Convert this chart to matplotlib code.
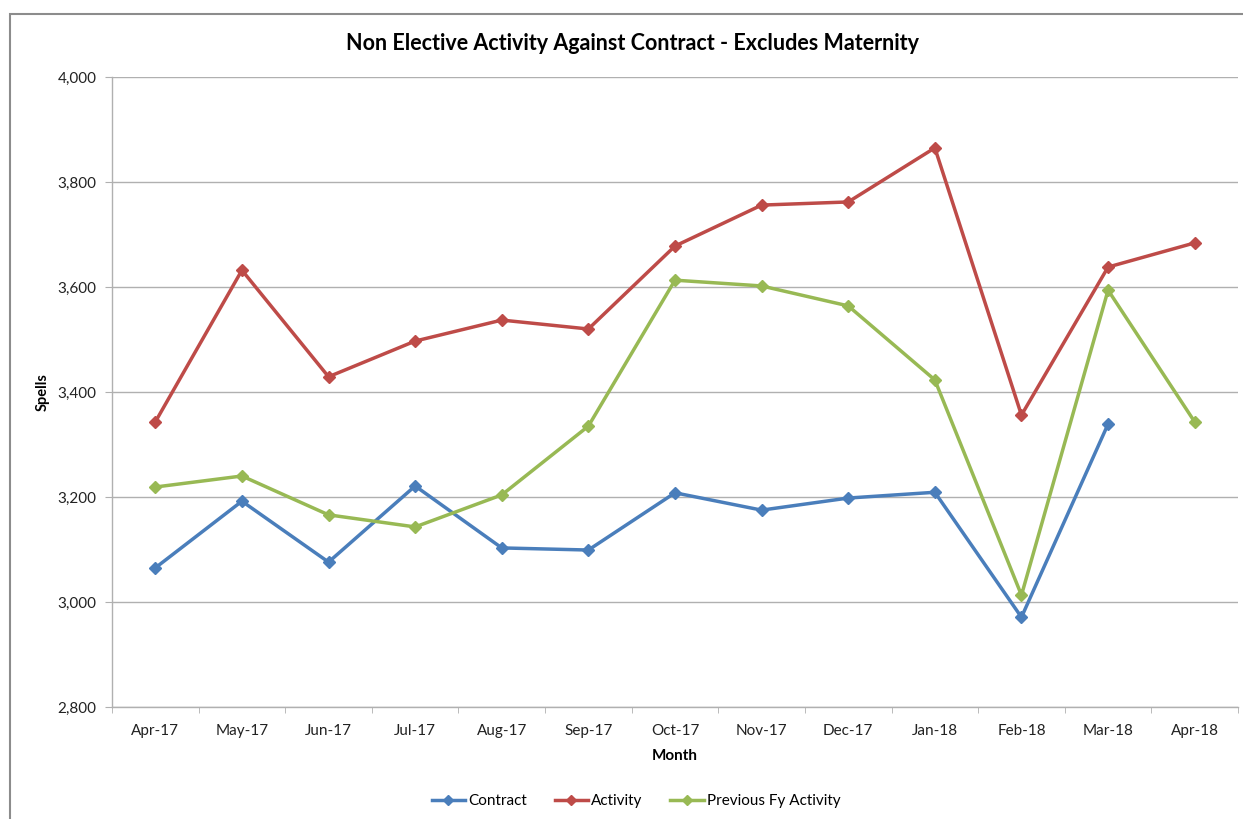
import matplotlib
matplotlib.use("Agg")
import matplotlib.pyplot as plt
from matplotlib.patches import Rectangle
from matplotlib.ticker import FuncFormatter, FixedLocator

plt.rcParams['font.family'] = ['Lato', 'DejaVu Sans']

months = ['Apr-17', 'May-17', 'Jun-17', 'Jul-17', 'Aug-17', 'Sep-17', 'Oct-17',
          'Nov-17', 'Dec-17', 'Jan-18', 'Feb-18', 'Mar-18', 'Apr-18']
contract = [3065, 3192, 3076, 3221, 3103, 3099, 3208, 3175, 3198, 3209, 2971, 3339, None]
activity = [3343, 3632, 3429, 3497, 3537, 3520, 3678, 3756, 3762, 3865, 3356, 3638, 3684]
previous_fy = [3219, 3240, 3166, 3143, 3204, 3335, 3613, 3602, 3564, 3423, 3013, 3594, 3343]

fig = plt.figure(figsize=(12.43, 8.19), dpi=100)
fig.patches.append(Rectangle((10/1243, -0.1), 1.2, 1 - 14/819 + 0.1, transform=fig.transFigure,
                             fill=False, edgecolor='#8c8c8c', linewidth=1.5))

ax = fig.add_axes([112/1243, 1 - 707/819, (1238 - 112)/1243, (707 - 77)/819])

x = list(range(len(months)))
c_x = [i for i, v in enumerate(contract) if v is not None]
c_y = [v for v in contract if v is not None]

ax.plot(c_x, c_y, color='#4A7EBB', lw=2.5, marker='D', ms=6, label='Contract')
ax.plot(x, activity, color='#BE4B48', lw=2.5, marker='D', ms=6, label='Activity')
ax.plot(x, previous_fy, color='#98B954', lw=2.5, marker='D', ms=6, label='Previous Fy Activity')

ax.set_xlim(-0.5, len(months) - 0.5)
ax.set_ylim(2800, 4000)
ax.set_yticks(range(2800, 4001, 200))
ax.yaxis.set_major_formatter(FuncFormatter(lambda v, p: f'{int(v):,}'))
ax.yaxis.grid(True, color='#b0b0b0', lw=1)
ax.set_axisbelow(True)

ax.set_xticks(x)
ax.set_xticklabels(months)
ax.xaxis.set_minor_locator(FixedLocator([i - 0.5 for i in range(len(months) + 1)]))
ax.tick_params(axis='x', which='major', length=0, pad=12, labelsize=11, colors='#222222')
ax.tick_params(axis='x', which='minor', length=4, color='#b0b0b0')
ax.tick_params(axis='y', length=5, color='#b0b0b0', labelsize=11, colors='#222222', pad=6)

for s in ['top', 'right']:
    ax.spines[s].set_visible(False)
for s in ['left', 'bottom']:
    ax.spines[s].set_color('#b0b0b0')
    ax.spines[s].set_linewidth(1)

ax.set_xlabel('Month', fontsize=11, fontweight='bold', labelpad=8)
ax.set_ylabel('Spells', fontsize=10.5, fontweight='bold', labelpad=6)
fig.text(633/1243, 1 - 43/819, 'Non Elective Activity Against Contract - Excludes Maternity',
         ha='center', va='center', fontsize=15.5, fontweight='bold')

fig.legend(loc='center', bbox_to_anchor=(636/1243, 1 - 801/819), ncol=3, frameon=False,
           fontsize=11, handlelength=2.2, handletextpad=0.2, columnspacing=1.8, markerscale=0.8)

fig.savefig('out.png', dpi=100)
